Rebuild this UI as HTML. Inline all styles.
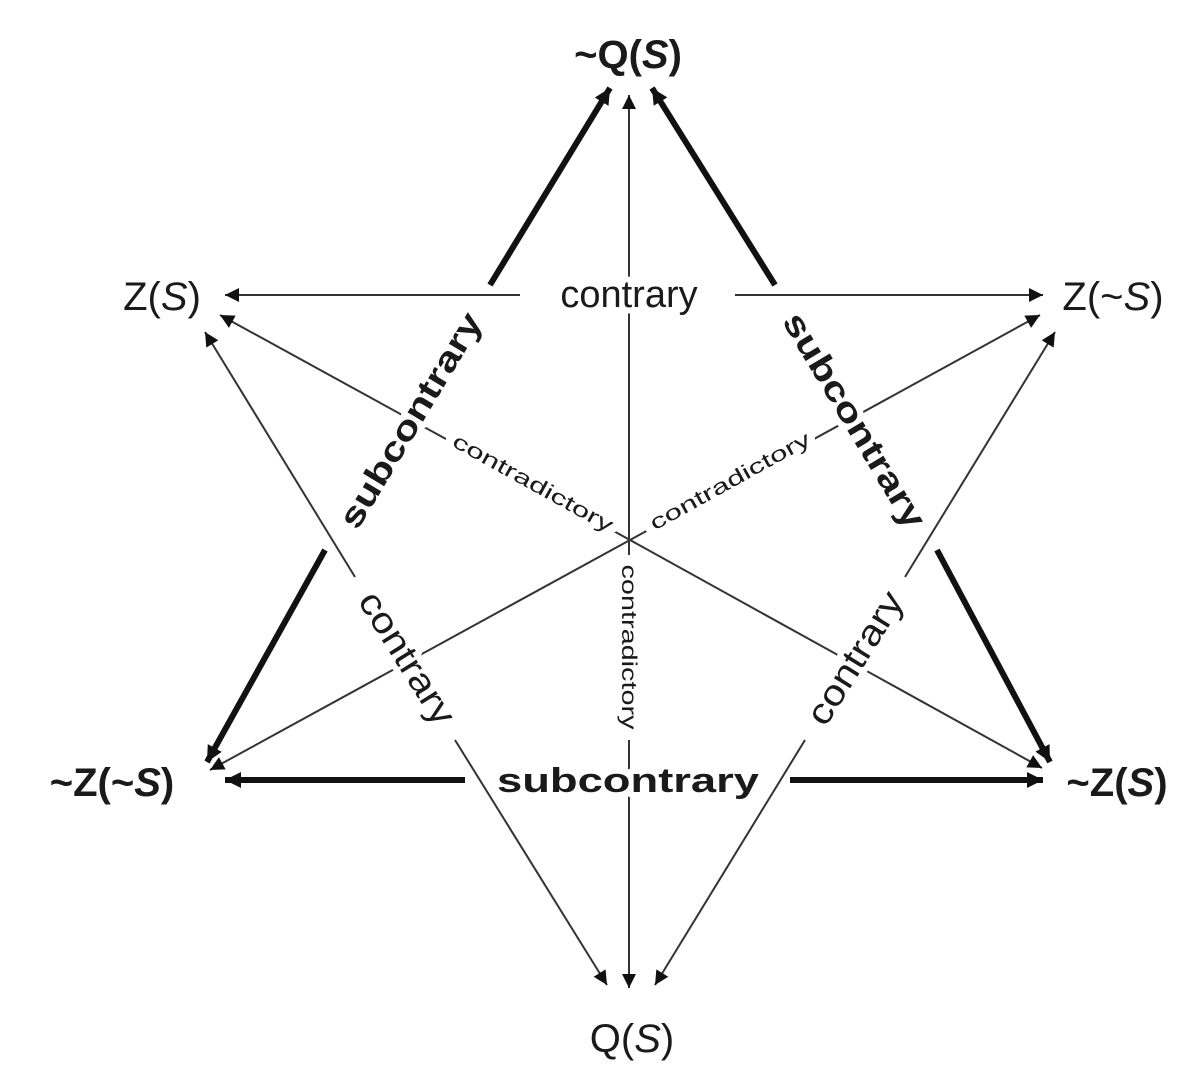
<!DOCTYPE html>
<html><head><meta charset="utf-8"><style>
html,body{margin:0;padding:0;background:#fff;}
svg{display:block;}
text{font-family:"Liberation Sans",sans-serif;fill:#1a1a1a;}
</style></head><body>
<svg width="1195" height="1085" viewBox="0 0 1195 1085" xmlns="http://www.w3.org/2000/svg">
<defs>
<marker id="a" viewBox="0 0 10 10" refX="10" refY="5" markerWidth="11" markerHeight="8" markerUnits="userSpaceOnUse" orient="auto" ><path d="M0,0 L10,5 L0,10 z" fill="#222"/></marker>
<marker id="at" viewBox="0 0 10 10" refX="10" refY="5" markerWidth="18" markerHeight="14" markerUnits="userSpaceOnUse" orient="auto"><path d="M0,0 L10,5 L0,10 z" fill="#111"/></marker>
<marker id="ah" viewBox="0 0 10 10" refX="10" refY="5" markerWidth="24" markerHeight="16" markerUnits="userSpaceOnUse" orient="auto"><path d="M0,0 L10,5 L0,10 z" fill="#111"/></marker>
</defs>
<g stroke="#333" stroke-width="2" fill="none">
<!-- vertical -->
<line x1="629" y1="555" x2="629" y2="95" marker-end="url(#at)"/>
<line x1="629" y1="740" x2="629" y2="988" marker-end="url(#at)"/>
<!-- top contrary -->
<line x1="520" y1="295" x2="225" y2="295" marker-end="url(#at)"/>
<line x1="735" y1="295" x2="1043" y2="295" marker-end="url(#at)"/>
<!-- contradictory diagonals -->
<line x1="630" y1="540" x2="220" y2="315" marker-end="url(#at)"/>
<line x1="630" y1="540" x2="1042" y2="768" marker-end="url(#at)"/>
<line x1="630" y1="540" x2="1040" y2="315" marker-end="url(#at)"/>
<line x1="630" y1="540" x2="210" y2="770" marker-end="url(#at)"/>
<!-- contrary diagonals -->
<line x1="355" y1="577" x2="205" y2="332" marker-end="url(#at)"/>
<line x1="455" y1="740" x2="607" y2="985" marker-end="url(#at)"/>
<line x1="905" y1="577" x2="1055" y2="332" marker-end="url(#at)"/>
<line x1="805" y1="740" x2="655" y2="985" marker-end="url(#at)"/>
</g>
<g stroke="#111" stroke-width="6" fill="none">
<line x1="490" y1="285" x2="610" y2="88" marker-end="url(#ah)"/>
<line x1="325" y1="550" x2="207" y2="762" marker-end="url(#ah)"/>
<line x1="775" y1="285" x2="652" y2="88" marker-end="url(#ah)"/>
<line x1="937" y1="550" x2="1050" y2="762" marker-end="url(#ah)"/>
<line x1="465" y1="780" x2="225" y2="780" marker-end="url(#ah)"/>
<line x1="790" y1="780" x2="1043" y2="780" marker-end="url(#ah)"/>
</g>
<!-- node labels -->
<text x="628" y="68" font-size="40" font-weight="bold" text-anchor="middle">~Q(<tspan font-style="italic">S</tspan>)</text>
<text x="162" y="310" font-size="40" text-anchor="middle">Z(<tspan font-style="italic">S</tspan>)</text>
<text x="1113" y="310" font-size="40" text-anchor="middle">Z(~<tspan font-style="italic">S</tspan>)</text>
<text x="112" y="796" font-size="40" font-weight="bold" text-anchor="middle">~Z(~<tspan font-style="italic">S</tspan>)</text>
<text x="1117" y="796" font-size="40" font-weight="bold" text-anchor="middle">~Z(<tspan font-style="italic">S</tspan>)</text>
<text x="632" y="1052" font-size="40" text-anchor="middle">Q(<tspan font-style="italic">S</tspan>)</text>
<!-- edge labels -->
<g stroke="#fff" stroke-width="12" paint-order="stroke" stroke-linejoin="round">
<text x="629" y="307" font-size="38" text-anchor="middle">contrary</text>
<text x="628" y="792" font-size="34" font-weight="bold" text-anchor="middle" textLength="262" lengthAdjust="spacingAndGlyphs">subcontrary</text>
<text transform="translate(410,420) rotate(-59)" y="12" font-size="34" font-weight="bold" text-anchor="middle" textLength="245" lengthAdjust="spacingAndGlyphs">subcontrary</text>
<text transform="translate(855,420) rotate(59)" y="12" font-size="34" font-weight="bold" text-anchor="middle" textLength="245" lengthAdjust="spacingAndGlyphs">subcontrary</text>
<text transform="translate(407,658) rotate(58)" y="12" font-size="36" text-anchor="middle" textLength="150" lengthAdjust="spacingAndGlyphs">contrary</text>
<text transform="translate(855,658) rotate(-58)" y="12" font-size="36" text-anchor="middle" textLength="150" lengthAdjust="spacingAndGlyphs">contrary</text>
<text transform="translate(533,483) rotate(29)" y="7" font-size="21" text-anchor="middle" textLength="180" lengthAdjust="spacingAndGlyphs">contradictory</text>
<text transform="translate(730,481) rotate(-29)" y="7" font-size="21" text-anchor="middle" textLength="180" lengthAdjust="spacingAndGlyphs">contradictory</text>
<text transform="translate(629,647) rotate(90)" y="7" font-size="21" text-anchor="middle" textLength="165" lengthAdjust="spacingAndGlyphs">contradictory</text>
</g>
</svg>
</body></html>
